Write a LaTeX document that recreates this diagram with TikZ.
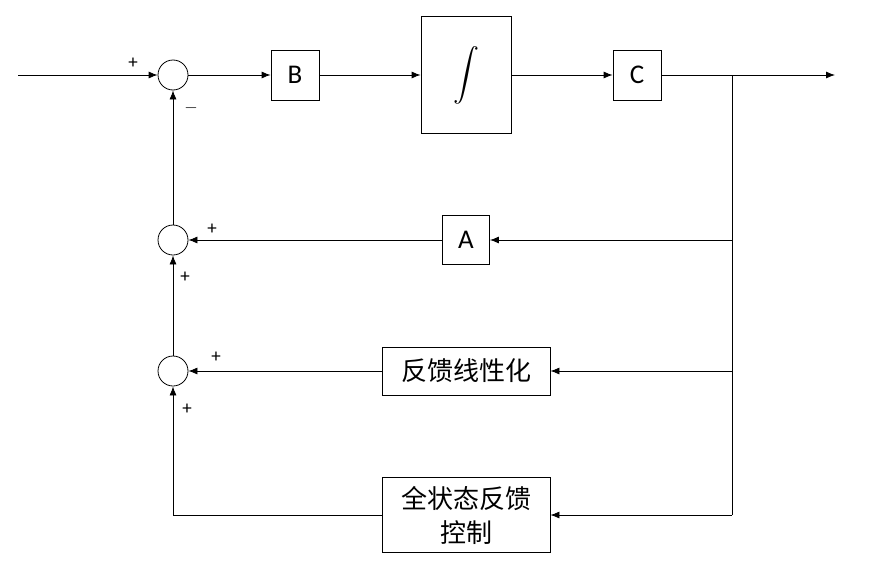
\documentclass[tikz,border=0pt]{standalone}
\usepackage{fontspec}
\usepackage{graphicx}
\setmainfont{Carlito}
\newfontfamily\cjk{Noto Sans CJK SC}
\usetikzlibrary{arrows.meta}
\begin{document}
\begin{tikzpicture}[x=1pt,y=-1pt,
  blk/.style={draw,line width=0.8pt,inner sep=0pt,font=\fontsize{27}{30}\selectfont},
  sum/.style={draw,circle,line width=0.8pt,minimum size=30pt,inner sep=0pt},
  arr/.style={line width=0.8pt,-{Latex[length=9pt,width=7pt]}},
  ln/.style={line width=0.8pt},
  sg/.style={font=\fontsize{19}{20}\selectfont}]
\useasboundingbox (0,0) rectangle (872,570);
\node[sum] (s1) at (173,75) {};
\node[sum] (s2) at (173,240) {};
\node[sum] (s3) at (173,371) {};
\node[blk,minimum width=48pt,minimum height=50pt] (B) at (295,75) {B};
\node[blk,minimum width=90pt,minimum height=117pt] (I) at (466,75) {\scalebox{2.6}{$\displaystyle\int$}};
\node[blk,minimum width=48pt,minimum height=50pt] (C) at (637,75) {C};
\node[blk,minimum width=47pt,minimum height=49pt] (A) at (466,240) {A};
\node[blk,minimum width=168pt,minimum height=48pt,font=\cjk\fontsize{26}{28}\selectfont] (F) at (466,371) {反馈线性化};
\node[blk,minimum width=168pt,minimum height=75pt,align=center,font=\cjk\fontsize{26}{34}\selectfont] (K) at (466,515) {全状态反馈\\控制};
\coordinate (in) at (18,75);
\coordinate (out) at (835,75);
\coordinate (br) at (732,75);
\coordinate (bb) at (732,515);
\coordinate (kl) at (173,515);
\draw[arr] (in) -- (s1);
\draw[arr] (s1) -- (B);
\draw[arr] (B) -- (I);
\draw[arr] (I) -- (C);
\draw[arr] (C.east |- out) -- (out);
\draw[ln] (br) -- (bb);
\draw[arr] (br |- A) -- (A);
\draw[arr] (br |- F) -- (F);
\draw[arr] (bb) -- (K);
\draw[arr] (A) -- (s2);
\draw[arr] (F) -- (s3);
\draw[ln] (K.west |- kl) -- (kl);
\draw[arr] (kl) -- (s3);
\draw[arr] (s3) -- (s2);
\draw[arr] (s2) -- (s1);
\node[sg] at (133,63) {+};
\node[sg] at (191,108) {$-$};
\node[sg] at (212,229) {+};
\node[sg] at (185,277) {+};
\node[sg] at (216,357) {+};
\node[sg] at (187,409) {+};
\end{tikzpicture}
\end{document}
